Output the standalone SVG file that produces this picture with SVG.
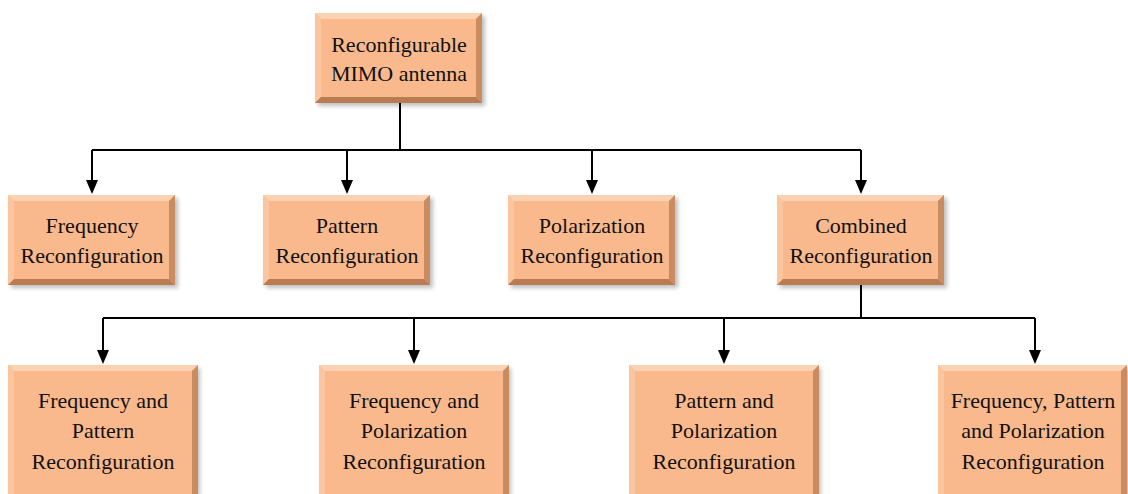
<svg xmlns="http://www.w3.org/2000/svg" width="1128" height="494" viewBox="0 0 1128 494">
<defs>
<style>
.face{fill:#F9B98C}
.bt{fill:#FDD2B2}
.bl{fill:#FBC59F}
.br{fill:#C98B60}
.bb{fill:#B87B52}
.sh{fill:#000;opacity:0.25;filter:url(#blur)}
text{font-family:'Liberation Serif','Times New Roman',serif;font-size:22px;fill:#111;text-anchor:middle}
.ln{stroke:#000;stroke-width:2;fill:none}
</style>
<filter id="blur" x="-10%" y="-10%" width="120%" height="120%"><feGaussianBlur stdDeviation="2"/></filter>
</defs>
<g id="connectors">
<path class="ln" d="M400,103 V150 M92,150 H861"/>
<path class="ln" d="M92,150 V182 M347,150 V182 M592,150 V182 M861,150 V182"/>
<path class="ln" d="M861,285 V318 M103,318 H1035 M103,318 V352 M414,318 V352 M724,318 V352 M1035,318 V352"/>
<g fill="#000">
<path d="M86,180 L98,180 L92,194 Z"/>
<path d="M341,180 L353,180 L347,194 Z"/>
<path d="M586,180 L598,180 L592,194 Z"/>
<path d="M855,180 L867,180 L861,194 Z"/>
<path d="M97,350 L109,350 L103,364 Z"/>
<path d="M408,350 L420,350 L414,364 Z"/>
<path d="M718,350 L730,350 L724,364 Z"/>
<path d="M1029,350 L1041,350 L1035,364 Z"/>
</g>
</g>
<g id="n0">
<rect class="sh" x="318" y="16" width="167" height="90"/>
<rect class="face" x="315" y="13" width="167" height="90"/>
<polygon class="bt" points="315,13 482,13 476,19 321,19"/>
<polygon class="bl" points="315,13 321,19 321,97 315,103"/>
<polygon class="br" points="482,13 482,103 476,97 476,19"/>
<polygon class="bb" points="315,103 482,103 476,97 321,97"/>
<text x="399" y="52">Reconfigurable</text>
<text x="399" y="81">MIMO antenna</text>
</g>
<g id="n1">
<rect class="sh" x="11" y="198" width="167" height="90"/>
<rect class="face" x="8" y="195" width="167" height="90"/>
<polygon class="bt" points="8,195 175,195 169,201 14,201"/>
<polygon class="bl" points="8,195 14,201 14,279 8,285"/>
<polygon class="br" points="175,195 175,285 169,279 169,201"/>
<polygon class="bb" points="8,285 175,285 169,279 14,279"/>
<text x="92" y="233">Frequency</text>
<text x="92" y="263">Reconfiguration</text>
</g>
<g id="n2">
<rect class="sh" x="266" y="198" width="167" height="90"/>
<rect class="face" x="263" y="195" width="167" height="90"/>
<polygon class="bt" points="263,195 430,195 424,201 269,201"/>
<polygon class="bl" points="263,195 269,201 269,279 263,285"/>
<polygon class="br" points="430,195 430,285 424,279 424,201"/>
<polygon class="bb" points="263,285 430,285 424,279 269,279"/>
<text x="347" y="233">Pattern</text>
<text x="347" y="263">Reconfiguration</text>
</g>
<g id="n3">
<rect class="sh" x="511" y="198" width="167" height="90"/>
<rect class="face" x="508" y="195" width="167" height="90"/>
<polygon class="bt" points="508,195 675,195 669,201 514,201"/>
<polygon class="bl" points="508,195 514,201 514,279 508,285"/>
<polygon class="br" points="675,195 675,285 669,279 669,201"/>
<polygon class="bb" points="508,285 675,285 669,279 514,279"/>
<text x="592" y="233">Polarization</text>
<text x="592" y="263">Reconfiguration</text>
</g>
<g id="n4">
<rect class="sh" x="780" y="198" width="167" height="90"/>
<rect class="face" x="777" y="195" width="167" height="90"/>
<polygon class="bt" points="777,195 944,195 938,201 783,201"/>
<polygon class="bl" points="777,195 783,201 783,279 777,285"/>
<polygon class="br" points="944,195 944,285 938,279 938,201"/>
<polygon class="bb" points="777,285 944,285 938,279 783,279"/>
<text x="861" y="233">Combined</text>
<text x="861" y="263">Reconfiguration</text>
</g>
<g id="n5">
<rect class="sh" x="11" y="368" width="189" height="130"/>
<rect class="face" x="8" y="365" width="190" height="132"/>
<polygon class="bt" points="8,365 198,365 192,371 14,371"/>
<polygon class="bl" points="8,365 14,371 14,497 8,497"/>
<polygon class="br" points="198,365 198,497 192,497 192,371"/>
<text x="103" y="408">Frequency and</text>
<text x="103" y="438">Pattern</text>
<text x="103" y="469">Reconfiguration</text>
</g>
<g id="n6">
<rect class="sh" x="322" y="368" width="189" height="130"/>
<rect class="face" x="319" y="365" width="190" height="132"/>
<polygon class="bt" points="319,365 509,365 503,371 325,371"/>
<polygon class="bl" points="319,365 325,371 325,497 319,497"/>
<polygon class="br" points="509,365 509,497 503,497 503,371"/>
<text x="414" y="408">Frequency and</text>
<text x="414" y="438">Polarization</text>
<text x="414" y="469">Reconfiguration</text>
</g>
<g id="n7">
<rect class="sh" x="632" y="368" width="189" height="130"/>
<rect class="face" x="629" y="365" width="190" height="132"/>
<polygon class="bt" points="629,365 819,365 813,371 635,371"/>
<polygon class="bl" points="629,365 635,371 635,497 629,497"/>
<polygon class="br" points="819,365 819,497 813,497 813,371"/>
<text x="724" y="408">Pattern and</text>
<text x="724" y="438">Polarization</text>
<text x="724" y="469">Reconfiguration</text>
</g>
<g id="n8">
<rect class="sh" x="941" y="368" width="189" height="130"/>
<rect class="face" x="938" y="365" width="189" height="132"/>
<polygon class="bt" points="938,365 1127,365 1121,371 944,371"/>
<polygon class="bl" points="938,365 944,371 944,497 938,497"/>
<polygon class="br" points="1127,365 1127,497 1121,497 1121,371"/>
<text x="1033" y="408">Frequency, Pattern</text>
<text x="1033" y="438">and Polarization</text>
<text x="1033" y="469">Reconfiguration</text>
</g>
</svg>
